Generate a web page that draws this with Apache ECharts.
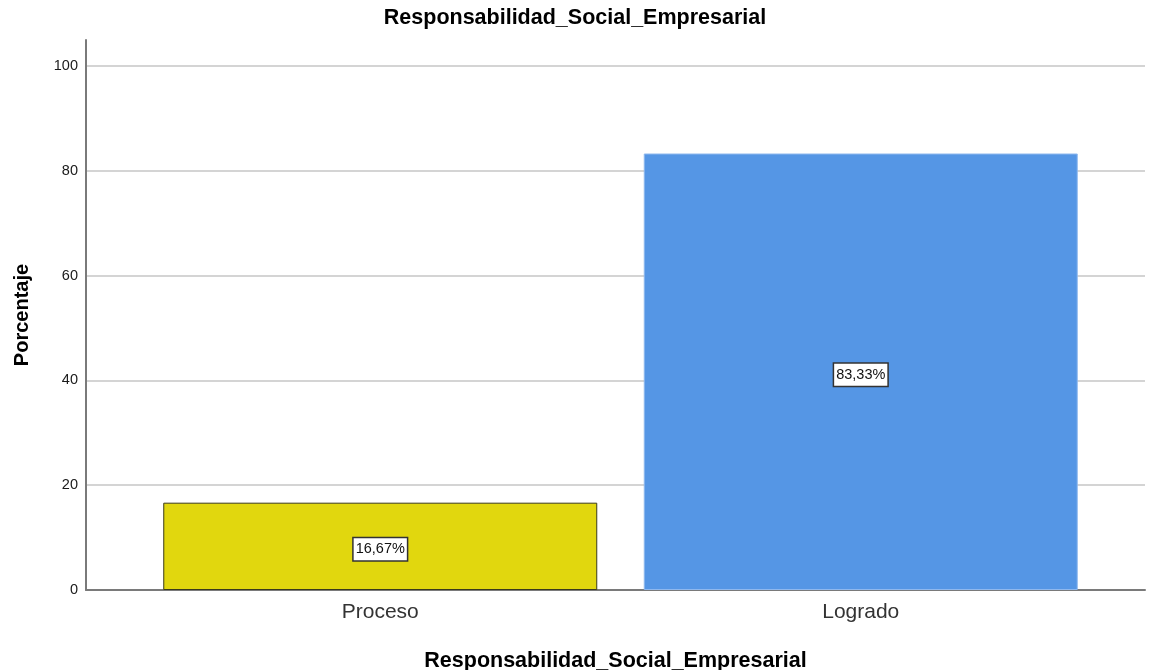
<!DOCTYPE html>
<html><head><meta charset="utf-8">
<script src="https://cdn.jsdelivr.net/npm/echarts@6/dist/echarts.min.js"></script>
<style>html,body{margin:0;padding:0;background:#fff}#c{width:1150px;height:670px}</style>
</head><body><div id="c"></div>
<script>
var titleText = 'Responsabilidad_Social_Empresarial';
var yName = 'Porcentaje';
var categories = ['Proceso', 'Logrado'];
var values = [16.67, 83.33];
var labels = ['16,67%', '83,33%'];
var barColors = ['#E1D70E', '#5596E5'];
var barBorders = ['#3a3a1a', '#8fb8ee'];
var gridLines = [20, 40, 60, 80, 100];

var font = 'Liberation Sans, Arial, sans-serif';
var chart = echarts.init(document.getElementById('c'), null, {renderer: 'canvas'});
var option = {
  backgroundColor: '#fff',
  animation: false,
  title: {text: titleText, left: 'center', top: 2,
    textStyle: {fontFamily: font, fontSize: 21.5, fontWeight: 'bold', color: '#000'}},
  grid: [
    {left: 86, right: 5, top: 40, bottom: 80, outerBoundsMode: 'none', containLabel: false},
    {left: 140, right: 49, top: 40, bottom: 80, outerBoundsMode: 'none', containLabel: false}
  ],
  xAxis: [
    {type: 'category', gridIndex: 0, data: [''], show: true,
      axisLine: {lineStyle: {color: '#7a7a7a', width: 2}}, axisTick: {show: false}, axisLabel: {show: false},
      name: titleText, nameLocation: 'middle', nameGap: 60,
      nameTextStyle: {fontFamily: font, fontSize: 21.5, fontWeight: 'bold', color: '#000'}},
    {type: 'category', gridIndex: 1, data: categories,
      axisLine: {show: false}, axisTick: {show: false},
      axisLabel: {fontFamily: font, fontSize: 21, color: '#333', margin: 12}}
  ],
  yAxis: [
    {type: 'value', gridIndex: 0, min: 0, max: 105, interval: 20,
      axisLine: {show: true, lineStyle: {color: '#7a7a7a', width: 2}}, axisTick: {show: false},
      axisLabel: {fontFamily: font, fontSize: 14.5, color: '#1a1a1a', margin: 8,
        formatter: function(v){ return v <= 100 ? String(v) : ''; }},
      splitLine: {show: false},
      name: yName, nameLocation: 'middle', nameGap: 54, nameRotate: 90,
      nameTextStyle: {fontFamily: font, fontSize: 20, fontWeight: 'bold', color: '#000'}},
    {type: 'value', gridIndex: 1, min: 0, max: 105, interval: 20, show: false, splitLine: {show: false}}
  ],
  series: [
    {type: 'line', xAxisIndex: 0, yAxisIndex: 0, data: [], silent: true, z: 0,
      markLine: {silent: true, symbol: 'none', label: {show: false}, z: 0,
        lineStyle: {color: '#d4d4d4', width: 2, type: 'solid'},
        data: gridLines.map(function(g){ return {yAxis: g}; })}},
    {type: 'bar', xAxisIndex: 1, yAxisIndex: 1, barWidth: 434, z: 10,
      data: values.map(function(v, i){
        return {value: v, itemStyle: {color: barColors[i], borderColor: barBorders[i], borderWidth: 1},
          label: {formatter: labels[i]}};
      }),
      label: {show: true, position: 'inside', offset: [0, 3], fontFamily: font, fontSize: 14.5, color: '#111',
        textBorderWidth: 0, textBorderColor: 'transparent',
        backgroundColor: '#fff', borderColor: '#333', borderWidth: 1.5, padding: [4, 2, 3, 2]}}
  ]
};
chart.setOption(option);
</script></body></html>
